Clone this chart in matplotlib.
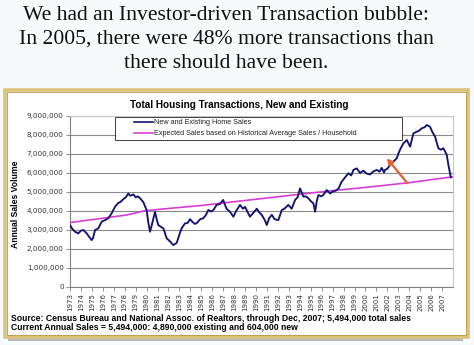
import matplotlib
matplotlib.use("Agg")
import matplotlib.pyplot as plt
from matplotlib.patches import Rectangle
from matplotlib.lines import Line2D

W, H = 474, 345

# Monthly-ish readings of combined new + existing home sales (millions)
sales_years = [
    1973.0, 1973.2, 1973.46, 1973.76, 1974.0, 1974.22, 1974.53, 1974.75, 1974.98, 1975.1,
    1975.29, 1975.59, 1975.9, 1976.2, 1976.5, 1976.8, 1977.11, 1977.41, 1977.6, 1977.87,
    1978.1, 1978.33, 1978.5, 1978.8, 1979.0, 1979.2, 1979.4, 1979.7, 1980.0, 1980.15,
    1980.31, 1980.5, 1980.77, 1980.9, 1981.07, 1981.3, 1981.53, 1981.84, 1982.1, 1982.44,
    1982.75, 1983.0, 1983.2, 1983.51, 1983.75, 1983.97, 1984.2, 1984.43, 1984.6, 1984.9,
    1985.18, 1985.4, 1985.64, 1985.9, 1986.1, 1986.4, 1986.7, 1987.0, 1987.3, 1987.6,
    1987.93, 1988.2, 1988.54, 1988.8, 1989.0, 1989.2, 1989.45, 1989.7, 1990.07, 1990.3,
    1990.52, 1990.8, 1990.98, 1991.2, 1991.44, 1991.7, 1992.04, 1992.35, 1992.6, 1992.95,
    1993.26, 1993.57, 1993.8, 1994.02, 1994.33, 1994.55, 1994.78, 1995.0, 1995.24, 1995.4,
    1995.55, 1995.7, 1995.95, 1996.15, 1996.46, 1996.77, 1997.0, 1997.3, 1997.55, 1997.8,
    1998.14, 1998.44, 1998.7, 1998.9, 1999.2, 1999.5, 1999.81, 2000.1, 2000.42, 2000.7,
    2001.03, 2001.3, 2001.49, 2001.7, 2001.79, 2002.0, 2002.25, 2002.5, 2002.86, 2003.01,
    2003.2, 2003.47, 2003.78, 2004.08, 2004.38, 2004.69, 2004.9, 2005.15, 2005.4, 2005.6,
    2005.9, 2006.1, 2006.36, 2006.66, 2006.9, 2007.12, 2007.43, 2007.58, 2007.8,
]
sales_millions = [
    3.24, 3.05, 2.89, 2.80, 2.95, 2.98, 2.80, 2.62, 2.45, 2.55,
    2.98, 3.07, 3.42, 3.50, 3.60, 3.85, 4.20, 4.40, 4.45, 4.60,
    4.70, 4.90, 4.78, 4.85, 4.70, 4.75, 4.65, 4.45, 4.03, 3.40,
    2.89, 3.30, 3.94, 3.60, 3.24, 3.15, 3.07, 2.54, 2.40, 2.19,
    2.30, 2.75, 3.07, 3.33, 3.35, 3.55, 3.40, 3.30, 3.35, 3.55,
    3.60, 3.75, 4.03, 3.95, 4.03, 4.30, 4.35, 4.56, 4.10, 3.95,
    3.68, 4.00, 4.30, 4.10, 4.20, 3.95, 3.68, 3.85, 4.10, 3.90,
    3.78, 3.50, 3.24, 3.60, 3.78, 3.55, 3.50, 4.03, 4.10, 4.30,
    4.10, 4.56, 4.70, 5.17, 4.73, 4.75, 4.65, 4.50, 4.38, 3.94,
    4.50, 4.82, 4.75, 4.82, 5.08, 4.90, 5.00, 5.05, 5.17, 5.50,
    5.75, 5.96, 5.85, 6.14, 6.22, 5.98, 6.10, 5.95, 5.90, 6.05,
    6.14, 6.05, 6.25, 6.00, 6.14, 6.20, 6.40, 6.55, 6.75, 7.00,
    7.25, 7.54, 7.71, 7.36, 8.06, 8.15, 8.20, 8.33, 8.38, 8.50,
    8.41, 8.15, 7.89, 7.28, 7.20, 7.28, 6.93, 6.40, 5.75,
]

# Expected sales from historical average sales per household (millions)
expected_years = [1973.0, 1978.2, 1979.9, 1985.0, 1988.5, 1994.0, 1997.0, 2000.0, 2004.0, 2008.0]
expected_millions = [3.37, 3.77, 4.00, 4.27, 4.50, 4.86, 5.05, 5.22, 5.47, 5.78]

# Arrow from the expected line up to the actual sales line (year, millions)
arrow_tail = (2003.83, 5.44)
arrow_head = (2001.95, 6.75)

year_labels = [str(y) for y in range(1973, 2008)]
y_ticks_millions = list(range(0, 10))

headline = ["We had an Investor-driven Transaction bubble:",
            "In 2005, there were 48% more transactions than",
            "there should have been."]
chart_title = "Total Housing Transactions, New and Existing"
series_names = ["New and Existing Home Sales",
                "Expected Sales based on Historical Average Sales / Household"]
y_label = "Annual Sales Volume"
source_lines = ["Source: Census Bureau and National Assoc. of Realtors, through Dec, 2007; 5,494,000 total sales",
                "Current Annual Sales = 5,494,000: 4,890,000 existing and 604,000 new"]

SALES_COLOR = "#141470"
EXPECTED_COLOR = "#d63fd6"
ARROW_COLOR = "#e8602c"


def fx(px):
    return px / W


def fy(py):
    return 1 - py / H


fig = plt.figure(figsize=(W / 100, H / 100), dpi=100, facecolor="#f7fafd")

# headline
serif = ["Liberation Serif", "DejaVu Serif"]
for i, line in enumerate(headline):
    fig.text(fx(226), fy(15 + 24 * i), line, ha="center", va="center",
             fontsize=15.6, family=serif, color="#111111")

# picture frame around the chart
fig.patches.append(Rectangle((fx(8), fy(341)), fx(463) - fx(8), fy(92) - fy(341),
                             transform=fig.transFigure, facecolor="#b8b8b8",
                             edgecolor="none", zorder=-3))
fig.patches.append(Rectangle((fx(5), fy(337)), fx(468) - fx(5), fy(90) - fy(337),
                             transform=fig.transFigure, facecolor="white",
                             edgecolor="#dcc27a", linewidth=2.6, zorder=-2))
fig.patches.append(Rectangle((fx(7), fy(335)), fx(466) - fx(7), fy(92) - fy(335),
                             transform=fig.transFigure, facecolor="none",
                             edgecolor="#b89a48", linewidth=0.6, zorder=-1))

ax = fig.add_axes([fx(70), fy(286.7), fx(453) - fx(70), fy(115.5) - fy(286.7)])
ax.set_facecolor("white")

ax.plot(expected_years, [v * 1e6 for v in expected_millions], color=EXPECTED_COLOR,
        lw=1.2, zorder=3)
ax.plot(sales_years, [v * 1e6 for v in sales_millions], color=SALES_COLOR,
        lw=1.35, zorder=4)

ax.annotate("", xy=(arrow_head[0], arrow_head[1] * 1e6),
            xytext=(arrow_tail[0], arrow_tail[1] * 1e6),
            arrowprops=dict(arrowstyle="-|>", color=ARROW_COLOR, lw=1.6,
                            mutation_scale=8, shrinkA=0, shrinkB=0), zorder=5)

ax.set_xlim(1973, 2008)
ax.set_ylim(0, 9e6)
ax.set_yticks([v * 1e6 for v in y_ticks_millions])
ax.set_yticklabels([f"{v * 1000000:,}" for v in y_ticks_millions],
                   fontsize=5.2, color="#333333")
ax.set_xticks(range(1973, 2008))
ax.set_xticklabels(year_labels, rotation=90, fontsize=5.0, color="#333333")
ax.tick_params(axis="both", length=3, width=0.6, color="#808080", pad=1.5)
ax.grid(axis="y", color="#8a8a8a", lw=0.8)
ax.set_axisbelow(True)
for s in ["top", "right"]:
    ax.spines[s].set_color("#c8c8c8")
    ax.spines[s].set_linewidth(0.8)
for s in ["left", "bottom"]:
    ax.spines[s].set_color("#808080")
    ax.spines[s].set_linewidth(0.8)

fig.text(fx(16), fy(204), y_label, rotation=90, ha="center", va="center",
         fontsize=6.2, fontweight="bold", family="Liberation Sans")

fig.text(fx(239), fy(105), chart_title, ha="center", va="center",
         fontsize=7.2, fontweight="bold", family="Liberation Sans")

# legend box
fig.patches.append(Rectangle((fx(115), fy(139.5)), fx(402) - fx(115), fy(116.5) - fy(139.5),
                             transform=fig.transFigure, facecolor="white",
                             edgecolor="#404040", linewidth=0.7, zorder=6))
for i, (name, color) in enumerate(zip(series_names, [SALES_COLOR, EXPECTED_COLOR])):
    yy = fy(122.3 + 11 * i)
    fig.add_artist(Line2D([fx(134), fx(153)], [yy, yy], color=color, lw=1.2,
                          transform=fig.transFigure, zorder=7))
    fig.text(fx(154), yy, name, ha="left", va="center", fontsize=5.2,
             family="Liberation Sans", color="#222222", zorder=7)

for i, line in enumerate(source_lines):
    fig.text(fx(11), fy(318.5 + 9 * i), line, ha="left", va="center",
             fontsize=6.2, fontweight="bold", family="Liberation Sans")

fig.savefig("out.png", dpi=100, facecolor=fig.get_facecolor())
